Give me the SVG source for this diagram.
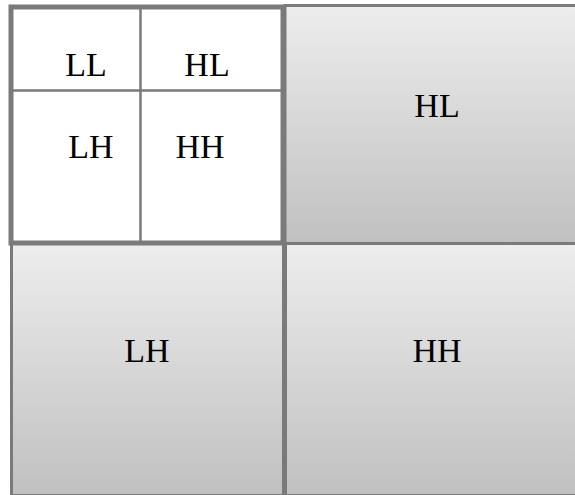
<svg xmlns="http://www.w3.org/2000/svg" width="575" height="495" viewBox="0 0 575 495">
<defs>
<linearGradient id="g" x1="0" y1="0" x2="0" y2="1">
<stop offset="0" stop-color="#ededed"/>
<stop offset="1" stop-color="#c0c0c0"/>
</linearGradient>
<style>
.box{fill:url(#g);stroke:#7a7a7a;stroke-width:3}
.t{font-family:"Liberation Serif","Times New Roman",serif;font-size:34px;fill:#000;text-anchor:middle}
.ln{stroke:#7a7a7a;stroke-width:2.5;fill:none}
</style>
</defs>
<rect width="575" height="495" fill="#fff"/>
<g id="HL_big"><rect class="box" x="285" y="5.5" width="292" height="238"/><text class="t" x="437" y="117">HL</text></g>
<g id="LH_big"><rect class="box" x="11.5" y="243.5" width="273" height="252"/><text class="t" x="147" y="362">LH</text></g>
<g id="HH_big"><rect class="box" x="285" y="243.5" width="292" height="252"/><text class="t" x="437" y="362">HH</text></g>
<g id="sub">
<rect x="11" y="7" width="272" height="236" fill="#fff" stroke="#7a7a7a" stroke-width="5"/>
<g class="conn">
<line class="ln" x1="140.5" y1="8" x2="140.5" y2="242"/>
<line class="ln" x1="12" y1="90.5" x2="282" y2="90.5"/>
<line x1="284.5" y1="243" x2="284.5" y2="495" stroke="#7a7a7a" stroke-width="5"/>
</g>
<g id="LL"><text class="t" x="86" y="76">LL</text></g>
<g id="HL_small"><text class="t" x="207" y="76">HL</text></g>
<g id="LH_small"><text class="t" x="91" y="158">LH</text></g>
<g id="HH_small"><text class="t" x="200" y="158">HH</text></g>
</g>
</svg>
